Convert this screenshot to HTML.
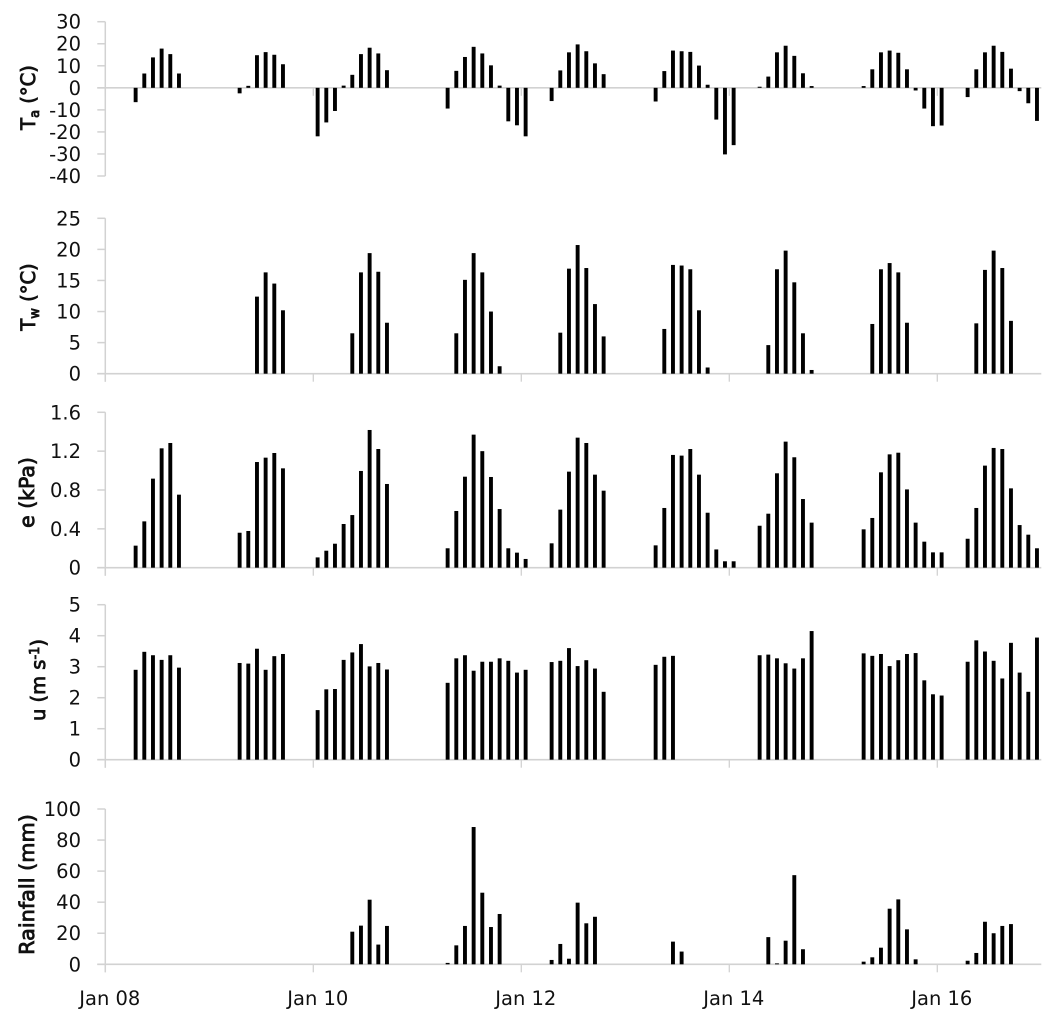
<!DOCTYPE html>
<html lang="en">
<head>
<meta charset="utf-8">
<title>Meteorological time series</title>
<style>
  html, body { margin: 0; padding: 0; background: #fff; }
  svg { display: block; filter: blur(0.35px); }
  text { font-family: "DejaVu Sans", "Liberation Sans", sans-serif; fill: #111; }
  .tick-label { font-size: 19.5px; }
  .axis-title { font-size: 19.5px; stroke: #111; stroke-width: 0.85px; }
</style>
</head>
<body>
<svg id="chart" xmlns="http://www.w3.org/2000/svg" width="1056" height="1020" viewBox="0 0 1056 1020">
  <rect x="0" y="0" width="1056" height="1020" fill="#ffffff"/>
  <g id="axes"></g>
  <g id="bars"></g>
  <text class="axis-title" text-anchor="middle" transform="translate(35 97.5) rotate(-90)">T<tspan font-size="13" dy="4">a</tspan><tspan dy="-4"> (°C)</tspan></text>
  <text class="axis-title" text-anchor="middle" transform="translate(35 297) rotate(-90)">T<tspan font-size="13" dy="4">w</tspan><tspan dy="-4"> (°C)</tspan></text>
  <text class="axis-title" style="font-size:20.4px" text-anchor="middle" transform="translate(34 492.5) rotate(-90)">e (kPa)</text>
  <text class="axis-title" text-anchor="middle" transform="translate(45 680) rotate(-90)">u (m s<tspan font-size="13" dy="-6">-1</tspan><tspan dy="6">)</tspan></text>
  <text class="axis-title" style="font-size:20.8px" text-anchor="middle" transform="translate(34 884.5) rotate(-90)">Rainfall (mm)</text>
</svg>
<script>
// Categories: 12 slots per day over 9 days, starting Jan 08.
const slotsPerDay = 12;
const dayCount = 9;
const dateTickDays = [0, 2, 4, 6, 8];
const dateTickLabels = ["Jan 08", "Jan 10", "Jan 12", "Jan 14", "Jan 16"];

// Series values, one row per day (null = no bar).
const airTemp = [
  null,null,null,-6.5,6.5,13.8,17.8,15.3,6.5,null,null,null,
  null,null,null,-2.5,0.9,14.8,16.2,15,10.7,null,null,null,
  -22,-15.7,-10.5,1,5.9,15.3,18.2,15.6,8,null,null,null,
  null,null,null,-9.4,7.7,14,18.6,15.6,10.2,1,-15.2,-17,
  -22,null,null,-6,7.9,16.1,19.7,16.6,11.1,6.2,null,null,
  null,null,null,-6.2,7.6,16.9,16.6,16.3,10.1,1.4,-14.4,-30.2,
  -26,null,null,0.5,5.1,16.1,19.1,14.5,6.6,0.8,null,null,
  null,null,null,0.8,8.4,16.1,16.9,15.9,8.4,-1.2,-9.4,-17.4,
  -17.1,null,null,-4.2,8.4,16.1,19.1,16.3,8.7,-1.5,-7,-15
];
const waterTemp = [
  null,null,null,null,null,null,null,null,null,null,null,null,
  null,null,null,null,null,12.4,16.3,14.5,10.2,null,null,null,
  null,null,null,null,6.5,16.3,19.4,16.4,8.2,null,null,null,
  null,null,null,null,6.5,15.1,19.4,16.3,10,1.2,null,null,
  null,null,null,null,6.6,16.9,20.7,17,11.2,6,null,null,
  null,null,null,null,7.2,17.5,17.4,16.8,10.2,1,null,null,
  null,null,null,null,4.6,16.8,19.8,14.7,6.5,0.6,null,null,
  null,null,null,null,8,16.8,17.8,16.3,8.2,null,null,null,
  null,null,null,null,8.1,16.7,19.8,17,8.5,null,null,null
];
const vapourPressure = [
  null,null,null,0.227,0.477,0.917,1.229,1.284,0.752,null,null,null,
  null,null,null,0.36,0.378,1.088,1.133,1.181,1.023,null,null,null,
  0.106,0.175,0.247,0.45,0.542,0.996,1.418,1.222,0.862,null,null,null,
  null,null,null,0.2,0.584,0.937,1.37,1.2,0.934,0.604,0.2,0.155,
  0.09,null,null,0.251,0.598,0.989,1.339,1.284,0.958,0.793,null,null,
  null,null,null,0.23,0.615,1.161,1.154,1.222,0.958,0.566,0.188,0.066,
  0.066,null,null,0.432,0.556,0.972,1.298,1.137,0.707,0.464,null,null,
  null,null,null,0.395,0.512,0.982,1.167,1.184,0.806,0.464,0.268,0.158,
  0.158,null,null,0.298,0.615,1.051,1.233,1.222,0.817,0.439,0.34,0.2
];
const windSpeed = [
  null,null,null,2.9,3.48,3.37,3.22,3.37,2.97,null,null,null,
  null,null,null,3.12,3.1,3.58,2.9,3.34,3.41,null,null,null,
  1.6,2.27,2.28,3.22,3.46,3.73,3.01,3.12,2.91,null,null,null,
  null,null,null,2.48,3.27,3.37,2.87,3.16,3.16,3.27,3.19,2.81,
  2.9,null,null,3.15,3.19,3.6,3.02,3.21,2.94,2.19,null,null,
  null,null,null,3.06,3.32,3.35,null,null,null,null,null,null,
  null,null,null,3.37,3.39,3.27,3.11,2.94,3.27,4.15,null,null,
  null,null,null,3.43,3.35,3.41,3.02,3.21,3.41,3.44,2.56,2.11,
  2.07,null,null,3.16,3.85,3.49,3.19,2.62,3.77,2.81,2.19,3.94
];
const rainfall = [
  null,null,null,null,null,null,null,null,null,null,null,null,
  null,null,null,null,null,null,null,null,null,null,null,null,
  null,null,null,null,21,24.9,41.6,12.7,24.7,null,null,null,
  null,null,null,0.9,12.2,24.7,88.4,46.1,24,32.4,null,null,
  null,null,null,2.8,13.1,3.6,39.7,26.4,30.6,null,null,null,
  null,null,null,null,null,14.6,8.2,null,null,null,null,null,
  null,null,null,null,17.5,0.6,15.2,57.4,9.7,null,null,null,
  null,null,null,1.7,4.5,10.7,35.8,41.8,22.5,3.2,null,null,
  null,null,null,2.3,7.3,27.4,20,24.7,25.9,null,null,null
];

// Tick labels
const airTempTicks = [30, 20, 10, 0, -10, -20, -30, -40];
const waterTempTicks = [25, 20, 15, 10, 5, 0];
const vapourTicks = [1.6, 1.2, 0.8, 0.4, 0];
const vapourTickLabels = ["1.6", "1.2", "0.8", "0.4", "0"];
const windTicks = [5, 4, 3, 2, 1, 0];
const rainTicks = [100, 80, 60, 40, 20, 0];

const SVG_NS = "http://www.w3.org/2000/svg";
const axesLayer = document.getElementById("axes");
const barsLayer = document.getElementById("bars");
const plotLeft = 105.3;
const dayWidth = 104;
const barWidth = 3.9;
const axisColor = "#d2d2d2";

function xForSlot(i) { return plotLeft + (i + 0.5) * dayWidth / slotsPerDay; }
function xForDay(d) { return plotLeft + d * dayWidth; }
function makeYScale(vMax, yMax, vMin, yMin) {
  return function (v) { return yMin + (v - vMin) * (yMax - yMin) / (vMax - vMin); };
}
function makeShape(tag, attrs) {
  const el = document.createElementNS(SVG_NS, tag);
  for (const k in attrs) el.setAttribute(k, attrs[k]);
  return el;
}

function drawPanel(key, values, ticks, tickLabels, y, showDates) {
  const zero = y(0);
  const bottom = Math.max.apply(null, ticks.map(y));
  const top = Math.min.apply(null, ticks.map(y));
  const xEnd = xForDay(dayCount);

  const yAxis = makeShape("line", { x1: plotLeft, x2: plotLeft, y1: top, y2: Math.max(bottom, zero + 8), stroke: axisColor, "stroke-width": 1.5 });
  
  
  axesLayer.appendChild(yAxis);

  const xAxis = makeShape("line", { x1: plotLeft - 8, x2: xEnd, y1: zero, y2: zero, stroke: axisColor, "stroke-width": 1.6 });
  
  
  axesLayer.appendChild(xAxis);

  ticks.forEach(function (t, i) {
    const tick = makeShape("line", { x1: plotLeft - 8, x2: plotLeft, y1: y(t), y2: y(t), stroke: axisColor, "stroke-width": 1.5 });
    
    
    axesLayer.appendChild(tick);

    const label = makeShape("text", { x: 81, y: y(t) + 7, "text-anchor": "end", class: "tick-label" });
    
    
    label.textContent = tickLabels[i];
    axesLayer.appendChild(label);
  });

  dateTickDays.forEach(function (d, i) {
    const tick = makeShape("line", { x1: xForDay(d), x2: xForDay(d), y1: zero, y2: zero + 8, stroke: axisColor, "stroke-width": 1.3 });
    
    
    axesLayer.appendChild(tick);

    if (showDates) {
      const label = makeShape("text", { x: xForDay(d) + 4.5, y: 1005, "text-anchor": "middle", class: "tick-label" });
      
      
      label.textContent = dateTickLabels[i];
      axesLayer.appendChild(label);
    }
  });

  values.forEach(function (v, i) {
    if (v === null) return;
    const yTop = Math.min(y(v), zero);
    const h = Math.abs(y(v) - zero);
    const bar = makeShape("rect", { x: xForSlot(i) - barWidth / 2, y: yTop, width: barWidth, height: h, fill: "#000000" });
    
    
    barsLayer.appendChild(bar);
  });
}

drawPanel("air-temperature", airTemp, airTempTicks, airTempTicks, makeYScale(30, 21.7, -40, 176), false);
drawPanel("water-temperature", waterTemp, waterTempTicks, waterTempTicks, makeYScale(25, 218.3, 0, 373.7), false);
drawPanel("vapour-pressure", vapourPressure, vapourTicks, vapourTickLabels, makeYScale(1.6, 412.3, 0, 567.7), false);
drawPanel("wind-speed", windSpeed, windTicks, windTicks, makeYScale(5, 604.7, 0, 759.7), false);
drawPanel("rainfall", rainfall, rainTicks, rainTicks, makeYScale(100, 809, 0, 964.3), true);
</script>
</body>
</html>
